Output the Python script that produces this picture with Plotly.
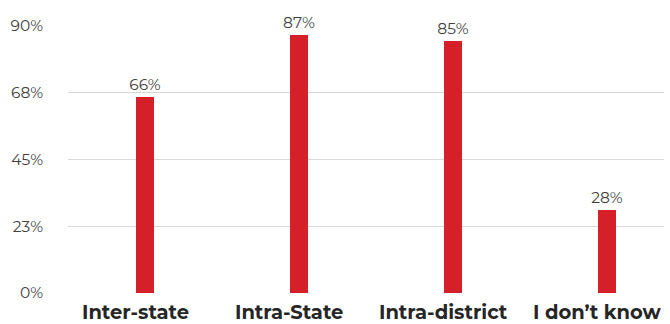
import plotly.graph_objects as go

categories = ["Inter-state", "Intra-State", "Intra-district", "I don\u2019t know"]
shares = [0.66, 0.87, 0.85, 0.28]
tick_vals = [0, 0.225, 0.45, 0.675, 0.9]
tick_text = ["0%", "23%", "45%", "68%", "90%"]

font_family = "Montserrat, 'Open Sans', sans-serif"

fig = go.Figure()
fig.add_trace(go.Bar(
    x=categories,
    y=shares,
    width=0.123,
    marker=dict(color="#D52029", line=dict(width=0)),
    text=[f"{round(v * 100)}%" for v in shares],
    textposition="outside",
    constraintext="none",
    textfont=dict(family=font_family, size=15.5, color="#404040"),
    cliponaxis=False,
))

# category labels drawn as annotations below the axis
for cat in categories:
    fig.add_annotation(
        x=cat, y=0, xref="x", yref="y",
        text=f"<b>{cat}</b>", showarrow=False,
        xanchor="center", yanchor="top",
        xshift=-10, yshift=-5,
        font=dict(family=font_family, size=19.5, color="#262626"),
    )

fig.update_layout(
    width=670, height=324,
    margin=dict(l=68, r=6, t=26, b=31),
    plot_bgcolor="white", paper_bgcolor="white",
    showlegend=False,
    bargap=0,
)
fig.update_xaxes(
    range=[-0.5, 3.37],
    showticklabels=False, showgrid=False, zeroline=False, showline=False,
)
fig.update_yaxes(
    range=[0, 0.9],
    tickvals=tick_vals, ticktext=tick_text,
    tickfont=dict(family=font_family, size=15.5, color="#404040"),
    showgrid=True, gridcolor="#D9D9D9", gridwidth=1,
    zeroline=False, showline=False,
    ticklabelstandoff=24,
)

fig.write_html("out.html")
